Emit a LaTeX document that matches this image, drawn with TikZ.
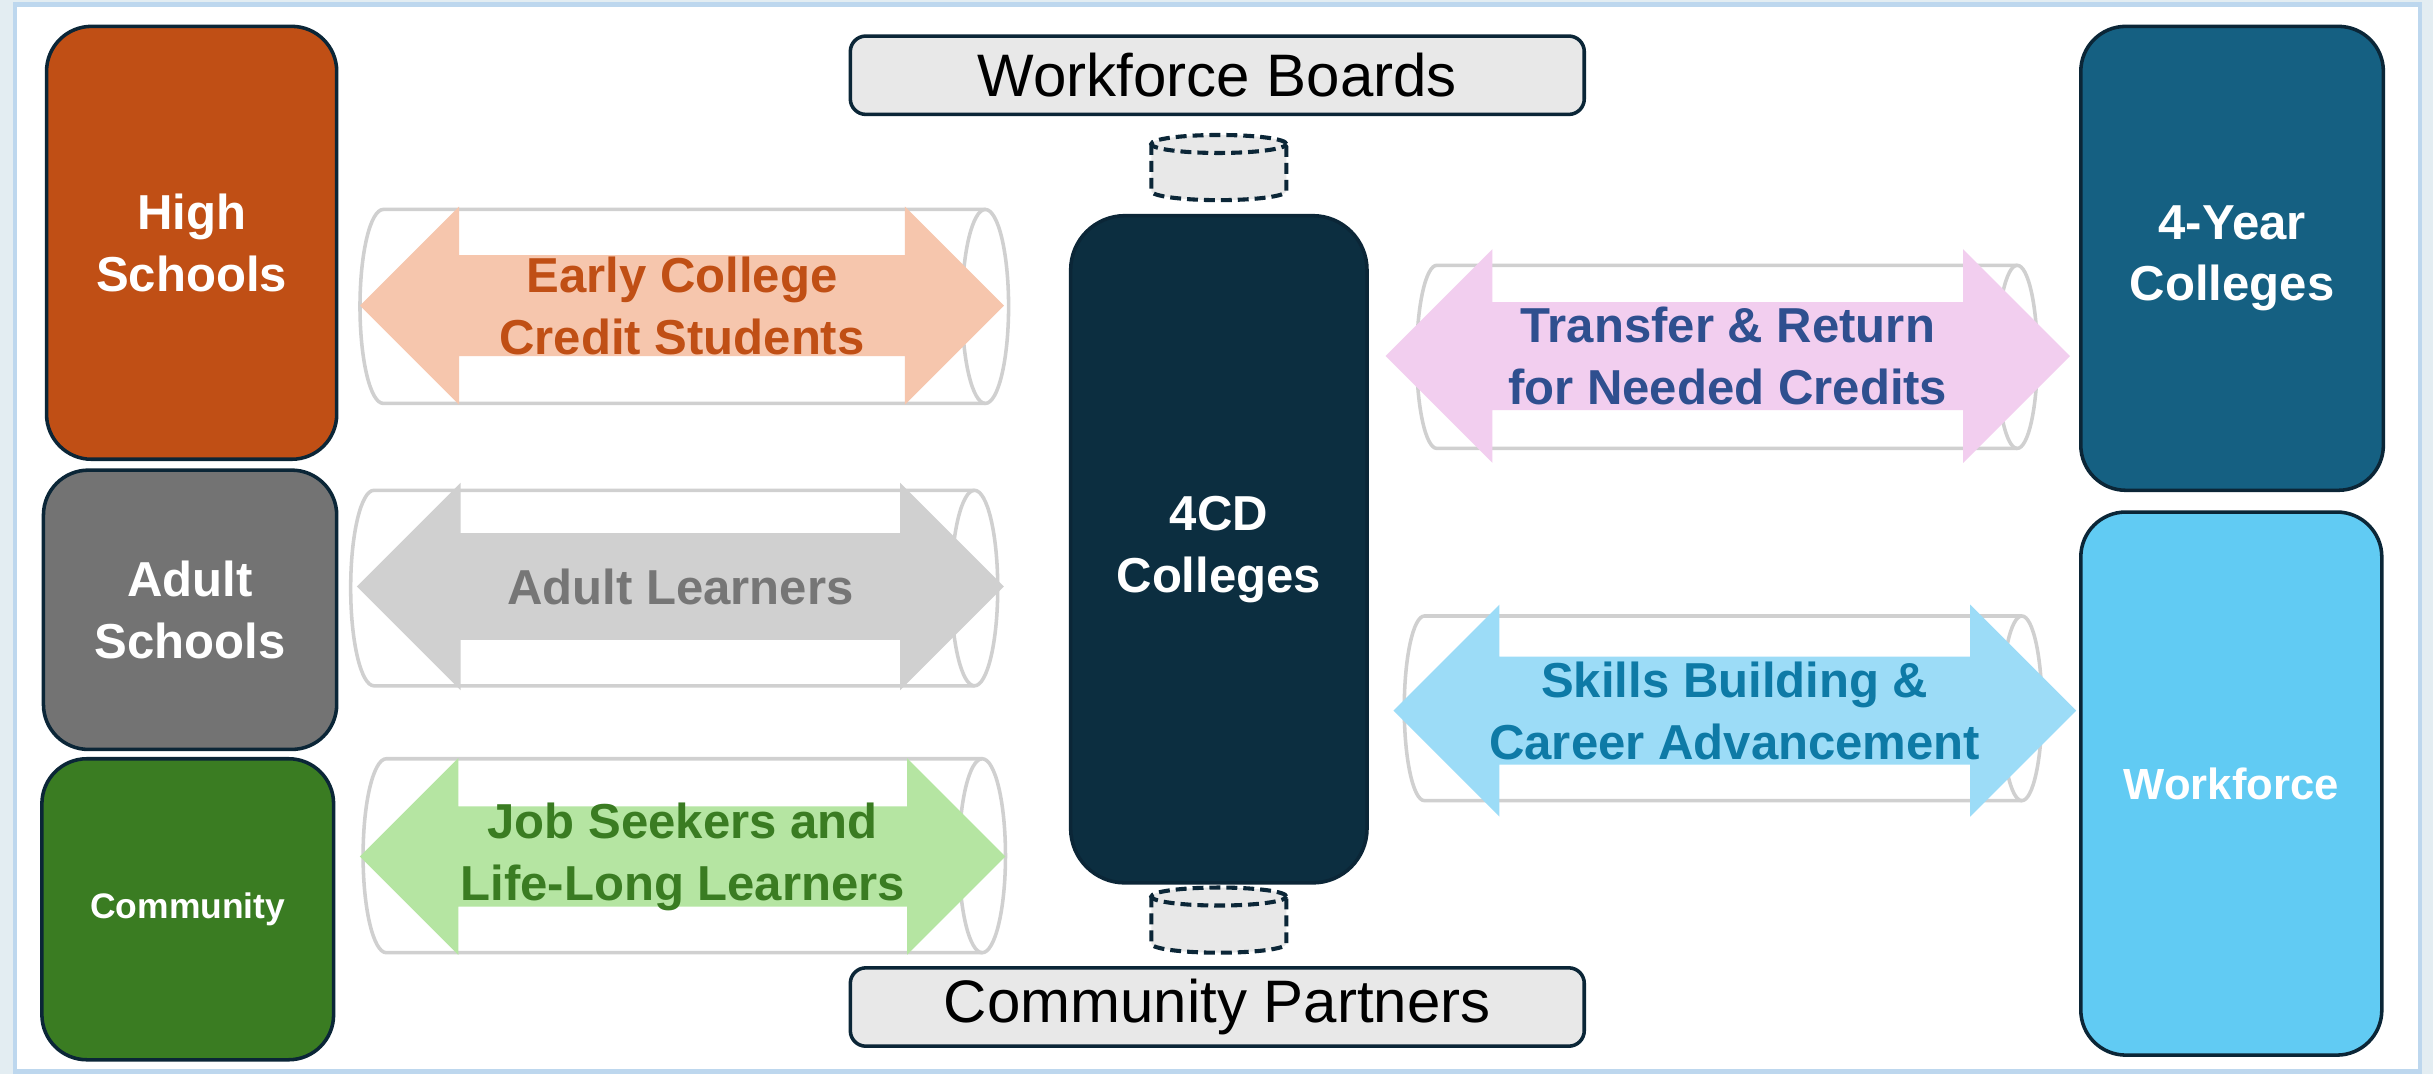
\documentclass[tikz,border=0pt]{standalone}
\usepackage{fontspec}
\setmainfont{Liberation Sans}
\usetikzlibrary{shapes.arrows}

\definecolor{outline}{HTML}{0B2637}
\definecolor{hsfill}{HTML}{C04F15}
\definecolor{asfill}{HTML}{737373}
\definecolor{cmfill}{HTML}{3A7C22}
\definecolor{fyfill}{HTML}{156082}
\definecolor{wffill}{HTML}{61CBF3}
\definecolor{cdfill}{HTML}{0C2E40}
\definecolor{boxgray}{HTML}{E8E8E8}
\definecolor{pipegray}{HTML}{D0D0D0}
\definecolor{ecarrow}{HTML}{F6C6AD}
\definecolor{alarrow}{HTML}{D0D0D0}
\definecolor{altext}{HTML}{767676}
\definecolor{jsarrow}{HTML}{B5E5A2}
\definecolor{trarrow}{HTML}{F2CEEF}
\definecolor{trtext}{HTML}{2F4F8F}
\definecolor{sbarrow}{HTML}{9CDCF7}
\definecolor{sbtext}{HTML}{0E7AA6}
\definecolor{framecol}{HTML}{BDD7EE}
\definecolor{outside}{HTML}{E3EDF2}

% tube: left ellipse x, right ellipse x, centre y, radius, ellipse half width
\newcommand{\tube}[5]{%
  \draw [pipe] (#2,#3+#4) -- (#1,#3+#4) arc [start angle=90, end angle=270, x radius=#5, y radius=#4] -- (#2,#3-#4);
  \draw [pipe] (#2,#3) ellipse [x radius=#5, y radius=#4];}

% plug: centre x, centre y
\newcommand{\plug}[2]{%
  \filldraw [plugline] (#1-0.87,#2+0.304) -- (#1-0.87,#2-0.304) arc [start angle=180, end angle=360, x radius=0.87, y radius=0.116] -- (#1+0.87,#2+0.304);
  \filldraw [plugline] (#1,#2+0.304) ellipse [x radius=0.87, y radius=0.116];}

\begin{document}
\begin{tikzpicture}[
    group/.style={draw=outline, line width=1.3pt, rounded corners=0.58cm, text=white, align=center,
      font=\bfseries\fontsize{18}{22.7}\selectfont},
    partner/.style={draw=outline, line width=1.3pt, fill=boxgray, rounded corners=0.2cm,
      minimum width=9.46cm, minimum height=1.01cm, font=\fontsize{22}{26}\selectfont},
    plugline/.style={draw=outline, fill=boxgray, line width=1.5pt, dash pattern=on 4pt off 2.2pt},
    pipe/.style={draw=pipegray, line width=1.3pt},
    flow/.style={double arrow, double arrow tip angle=90, inner xsep=0},
    flowtext/.style={align=center, font=\bfseries\fontsize{18}{22.7}\selectfont}
  ]

     % page and frame
     \useasboundingbox (0,0) rectangle (31.36,13.84);
     \fill [outside] (0,0) rectangle (31.36,13.84);
     \draw [framecol, line width=1.7pt, fill=white] (0.194,0.03) rectangle (31.19,13.78);

     % left groups
     \node (HS) at (2.47,10.71) [group, fill=hsfill, minimum width=3.74cm, minimum height=5.58cm] {High\\Schools};
     \node (AS) at (2.45,5.98) [group, fill=asfill, minimum width=3.78cm, minimum height=3.6cm] {Adult\\Schools};
     \node (CM) at (2.42,2.12) [group, fill=cmfill, minimum width=3.76cm, minimum height=3.88cm, font=\bfseries\fontsize{13}{16}\selectfont] {Community};

     % right groups
     \node (FY) at (28.77,10.51) [group, fill=fyfill, minimum width=3.9cm, minimum height=5.98cm] {4-Year\\Colleges};
     \node (WF) at (28.76,3.74) [group, fill=wffill, minimum width=3.88cm, minimum height=7cm, font=\bfseries\fontsize{16}{20}\selectfont] {Workforce};

     % centre
     \node (CD) at (15.71,6.76) [group, fill=cdfill, rounded corners=0.7cm, minimum width=3.82cm, minimum height=8.6cm] {4CD\\Colleges};
     \node (WB) at (15.69,12.87) [partner] {Workforce Boards};
     \node (CP) at (15.69,0.86) [partner] {Community Partners};
     \plug{15.71}{11.68}
     \plug{15.71}{1.98}

     % pipes
     \tube{4.94}{12.7}{9.89}{1.25}{0.3}
     \tube{4.82}{12.56}{6.26}{1.26}{0.3}
     \tube{4.98}{12.66}{2.81}{1.25}{0.3}
     \tube{18.52}{26.0}{9.24}{1.18}{0.26}
     \tube{18.36}{26.06}{4.71}{1.19}{0.26}

     % flows
     \node (EC) at (8.79,9.9) [flow, fill=ecarrow, inner ysep=0.645cm, minimum height=8.3cm, minimum width=2.54cm, double arrow head extend=0.625cm] {};
     \node (AL) at (8.77,6.28) [flow, fill=alarrow, inner ysep=0.68cm, minimum height=8.34cm, minimum width=2.66cm, double arrow head extend=0.65cm] {};
     \node (JS) at (8.8,2.8) [flow, fill=jsarrow, inner ysep=0.64cm, minimum height=8.32cm, minimum width=2.52cm, double arrow head extend=0.62cm] {};
     \node (TR) at (22.27,9.25) [flow, fill=trarrow, inner ysep=0.69cm, minimum height=8.82cm, minimum width=2.74cm, double arrow head extend=0.68cm] {};
     \node (SB) at (22.36,4.68) [flow, fill=sbarrow, inner ysep=0.69cm, minimum height=8.8cm, minimum width=2.72cm, double arrow head extend=0.67cm] {};

     \node (ECt) at (EC) [flowtext, text=hsfill] {Early College\\Credit Students};
     \node (ALt) at (AL) [flowtext, text=altext] {Adult Learners};
     \node (JSt) at (JS) [flowtext, text=cmfill] {Job Seekers and\\Life-Long Learners};
     \node (TRt) at (TR) [flowtext, text=trtext] {Transfer \& Return\\for Needed Credits};
     \node (SBt) at (SB) [flowtext, text=sbtext] {Skills Building \&\\Career Advancement};

\end{tikzpicture}
\end{document}
